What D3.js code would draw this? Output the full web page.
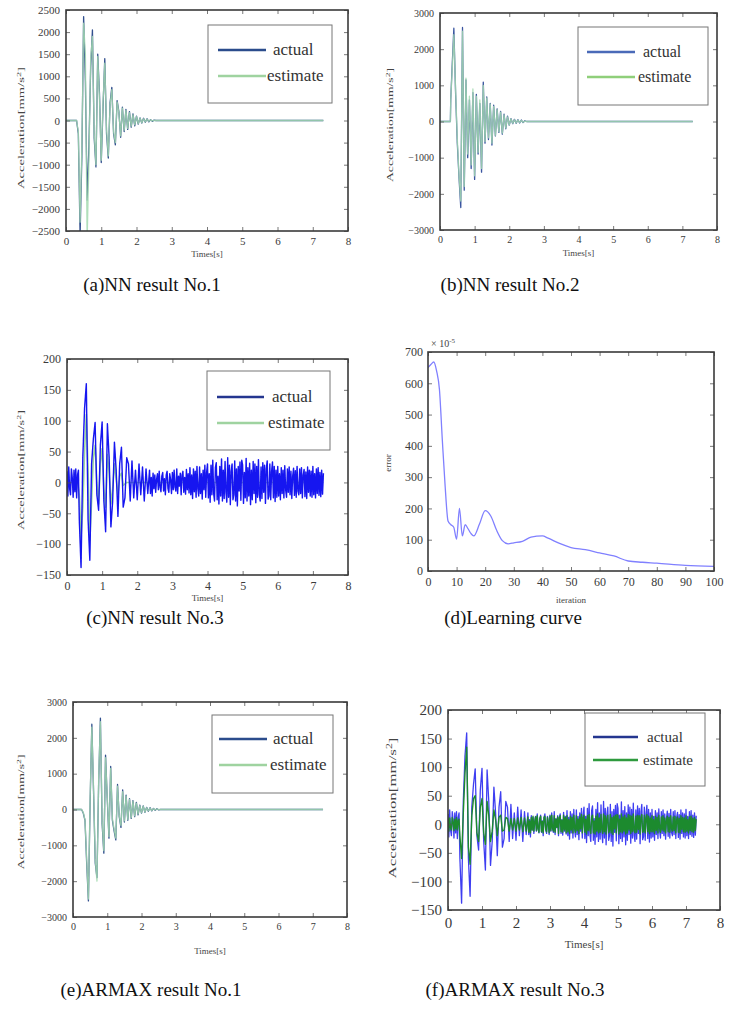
<!DOCTYPE html>
<html><head><meta charset="utf-8">
<script src="https://cdn.jsdelivr.net/npm/d3@7"></script>
<style>
body{margin:0;background:#fff}
svg{display:block}
text{font-family:"Liberation Serif","Times New Roman",serif}
</style>
</head><body>
<svg id="fig" width="731" height="1014"></svg>
<script>
// ---------------- data ----------------
const END_T = 7.3;          // end of records [s]
const STEP = 0.05;          // sampling step of burst values [s]
const FINE = 0.025;         // sampling step of noise values [s]
const timeTicks = [0,1,2,3,4,5,6,7,8];
const accTicksA = [-2500,-2000,-1500,-1000,-500,0,500,1000,1500,2000,2500];
const accTicks3k = [-3000,-2000,-1000,0,1000,2000,3000];
const accTicks200 = [-150,-100,-50,0,50,100,150,200];
const iterTicks = [0,10,20,30,40,50,60,70,80,90,100];
const errTicks = [0,100,200,300,400,500,600,700];
const legendLabels = ["actual","estimate"];
const captions = ["(a)NN result No.1","(b)NN result No.2","(c)NN result No.3","(d)Learning curve","(e)ARMAX result No.1","(f)ARMAX result No.3"];

// (a) NN result No.1  (values from t = 0.30 s, every STEP)
const aStart = 0.30;
const aActual = [0,-300,-2600,-800,2350,900,-1800,-600,1200,2050,-400,-1050,1500,600,-950,300,1400,-300,-850,400,750,-300,-550,450,200,-380,300,-250,250,-200,200,-150,150,-120,100,-80,60,-60,50,-40,40,-30,20,-20,10,0];
const aEstimate = [0,-250,-2300,-600,2200,1500,-2700,-900,1400,1900,-300,-1000,1450,500,-900,400,1300,-200,-800,350,700,-250,-500,420,180,-350,280,-220,230,-180,180,-130,130,-100,90,-70,50,-50,40,-30,30,-20,15,-10,5,0];

// (b) NN result No.2  (values from t = 0.35 s)
const bLeadT = [0,0.30,0.31];
const bLeadV = [0,0,600];
const bStart = 0.35;
const bActual = [1500,2580,800,-600,-1560,-2380,2600,-1900,1150,-1000,600,-1300,800,-1600,750,-900,500,-1400,1090,-600,680,-500,500,-650,450,-400,350,-300,280,-350,200,-200,150,-100,80,-60,60,-50,50,-40,40,-30,20,0];
const bEstimate = [1400,2400,900,-500,-1500,-2200,2500,-1800,1200,-900,700,-1200,900,-1500,700,-850,600,-1300,1000,-550,650,-450,480,-600,420,-380,330,-280,260,-320,180,-180,130,-90,70,-50,50,-40,40,-30,30,-20,10,0];

// No.3 actual record (shared by (c) and (f))
const no3LeadStart = 0, no3BurstStart = 0.35, no3TailStart = 2.35;
const no3ActualLead = [18,-22,25,-10,-20,22,8,-24,20,-15,22,-25,12,20];            // FINE steps
const no3ActualBurst = [-60,-138,40,120,160,-60,-126,30,70,97,-20,-45,60,98,-30,-80,95,40,-72,-30,
 65,20,-55,30,57,-40,-25,40,30,-30,35,-25,20,-28,30,-20,25,-30,22,-18];             // STEP steps
const no3ActualTail = [                                                                  // FINE steps
 20,-18,8,-22,15,-10,12,-16,5,14, -12,18,-8,-15,10,16,-14,6,-20,12,
 18,-10,-16,14,4,-18,16,-12,20,-8, -14,22,-18,10,-6,15,-20,12,18,-16,
 8,-19,21,-12,14,-17,
 24,-20,12,-26,22,-15,18,-24,26,-10, -22,25,-18,14,-27,20,-12,28,-24,16,
 30,-25,14,-32,28,-20,36,-18,-30,24, 32,-28,10,-35,26,-22,38,-30,20,-26,
 34,-16,-32,40,-24,28,-36,18,30,-28, -20,35,-30,22,-38,26,-14,33,-29,36,
 28,-34,16,-25,39,-30,24,-22,31,-36, 20,-28,34,-18,30,-33,26,-24,37,-20,
 -30,25,-26,32,-16,28,-34,22,35,-27, -22,30,-28,18,33,-25,26,-31,20,-24,
 26,-22,14,-28,24,-18,20,-25,27,-12, -24,22,-16,25,-20,18,-26,10,23,-21,
 19,-24,26,-14,-20,22,-18,24,-25,12, 21,-23,17,-26,25,-16,20,-22,18,-24,
 26,-20,14,-25,22,-18,24,-21,16,-23, 20,-19,15];

// (c) NN estimate No.3
const cEstT = [0,0.30,0.35,0.40,0.45,0.50,0.55,0.60,0.65,0.70,0.75,0.80,0.85,0.90,0.95,1.00,1.05,1.10,1.15,1.20,1.25,1.30,1.35,1.40,1.45,1.50,1.55,1.60,1.70,7.3];
const cEstV = [0,0,-20,-90,-40,50,110,20,-95,-30,40,60,0,-35,30,55,-10,-40,45,15,-35,-10,30,5,-20,10,15,-5,0,0];

// (d) learning curve
const iterX = [0,1,2,3,4,5,6,7,8,9,10,11,12,13,14,15,16,18,20,22,24,26,28,30,33,36,40,42,46,50,55,60,65,70,75,80,90,100];
const errorY = [650,660,668,640,580,420,270,160,148,140,102,200,112,148,135,120,112,150,193,175,130,97,87,90,95,108,112,105,88,75,68,58,48,32,28,25,18,15];

// (e) ARMAX result No.1 (values from t = 0.25 s)
const eStart = 0.25;
const eActual = [0,-100,-300,-1500,-2550,200,2380,500,-1500,-1900,800,2550,-400,-1220,1520,300,-800,1200,-300,-600,-850,700,-200,-500,550,-350,400,-300,300,-250,250,-200,200,-150,120,-100,100,-80,60,-50,50,-40,30,-20,20,-10,0];
const eEstimate = [0,-80,-280,-1400,-2500,300,2300,600,-1400,-2000,900,2450,-300,-1150,1450,350,-750,1150,-250,-550,-800,650,-180,-450,500,-320,380,-280,280,-230,230,-180,180,-130,110,-90,90,-70,50,-40,40,-30,25,-15,15,-5,0];

// (f) ARMAX estimate No.3
const fEstLead = [10,-12,11,-6,-10,12,4,-11,9,-8,12,-10,6,9];
const fEstBurst = [-20,-60,20,90,135,-40,-70,15,45,50,-15,-30,30,45,-15,-35,40,15,-30,-12,
 25,8,-20,12,16,-12,-10,12,10,-12,10,-10,10,-12,11,-10,12,-13,11,-12];
const fEstTail = [
 13,-14,6,-15,12,-10,14,-12,4,13, -11,15,-8,-14,10,14,-13,5,-15,12,
 14,-9,-13,12,3,-15,14,-11,16,-7, -12,15,-14,9,-5,13,-16,11,15,-13,
 7,-14,16,-10,12,-15,
 15,-13,8,-16,14,-10,12,-15,16,-7, -14,15,-11,9,-16,13,-8,17,-15,11,
 16,-14,9,-17,15,-11,17,-10,-16,13, 16,-15,6,-17,14,-12,18,-15,11,-14,
 17,-9,-16,18,-13,15,-17,10,16,-15, -11,17,-15,12,-18,14,-8,16,-15,17,
 15,-17,9,-13,18,-15,13,-12,16,-17, 11,-15,17,-10,16,-16,14,-13,18,-11,
 -15,14,-14,16,-9,15,-17,12,17,-14, -12,16,-15,10,17,-13,14,-16,11,-13,
 15,-13,8,-16,14,-11,12,-15,16,-7, -14,13,-10,15,-12,11,-15,6,14,-13,
 12,-14,15,-8,-12,13,-11,14,-15,7, 13,-14,10,-15,15,-9,12,-13,11,-14,
 15,-12,8,-15,13,-11,14,-13,10,-14, 12,-11,9];

// ---------------- helpers ----------------
const gridStep = (t0, step, vals) => vals.map((v,i)=>[t0 + i*step, v]);
const grid = (t0, vals) => gridStep(t0, STEP, vals);
const zip = (ts, vs) => ts.map((t,i)=>[t, vs[i]]);
const flatBurst = (t0, vals) => [[0,0]].concat(grid(t0, vals), [[END_T,0]]);
const record3 = (lead, burst, tail) => gridStep(no3LeadStart, FINE, lead)
  .concat(gridStep(no3BurstStart, STEP, burst), gridStep(no3TailStart, FINE, tail));

const svg = d3.select("#fig");
const defs = svg.append("defs");
defs.append("filter").attr("id","soft").attr("x","-5%").attr("y","-5%").attr("width","110%").attr("height","110%")
  .append("feGaussianBlur").attr("stdDeviation",0.5);
let clipId = 0;

function panel(cfg){
  const x = d3.scaleLinear().domain(cfg.xDomain).range([cfg.l, cfg.r]);
  const y = d3.scaleLinear().domain(cfg.yDomain).range([cfg.b, cfg.t]);
  const g = svg.append("g");
  const id = "clip" + (clipId++);
  defs.append("clipPath").attr("id", id).append("rect")
    .attr("x", cfg.l).attr("y", cfg.t).attr("width", cfg.r-cfg.l).attr("height", cfg.b-cfg.t);
  const plot = g.append("g").attr("clip-path", `url(#${id})`).append("g").attr("filter","url(#soft)");
  const line = d3.line().x(d=>x(d[0])).y(d=>y(d[1]));
  if (cfg.curve) line.curve(cfg.curve);
  cfg.series.forEach(s=>{
    plot.append("path").attr("d", line(s.data)).attr("fill","none")
      .attr("stroke", s.color).attr("stroke-width", s.width||1)
      .attr("stroke-opacity", s.opacity==null?1:s.opacity)
      .attr("stroke-linejoin","round");
  });
  const fs = cfg.tickFont;
  const styleAxis = a => {
    a.attr("font-family",null);
    a.select(".domain").remove();
    a.selectAll(".tick line").attr("stroke","#555").attr("stroke-width",0.8);
    a.selectAll("text").attr("font-size", fs).attr("fill","#3a3a3a");
  };
  g.append("g").attr("transform",`translate(0,${cfg.b})`)
    .call(d3.axisBottom(x).tickValues(cfg.xTicks).tickSizeInner(-4).tickSizeOuter(0).tickPadding(cfg.xPad).tickFormat(d3.format("d")))
    .call(styleAxis);
  g.append("g").attr("transform",`translate(0,${cfg.t})`)
    .call(d3.axisTop(x).tickValues(cfg.xTicks).tickSizeInner(-4).tickSizeOuter(0).tickFormat(""))
    .call(styleAxis);
  g.append("g").attr("transform",`translate(${cfg.l},0)`)
    .call(d3.axisLeft(y).tickValues(cfg.yTicks).tickSizeInner(-4).tickSizeOuter(0).tickPadding(cfg.yPad).tickFormat(d3.format("d")))
    .call(styleAxis);
  g.append("g").attr("transform",`translate(${cfg.r},0)`)
    .call(d3.axisRight(y).tickValues(cfg.yTicks).tickSizeInner(-4).tickSizeOuter(0).tickFormat(""))
    .call(styleAxis);
  g.append("rect").attr("x",cfg.l).attr("y",cfg.t).attr("width",cfg.r-cfg.l).attr("height",cfg.b-cfg.t)
    .attr("fill","none").attr("stroke","#3a3a3a").attr("stroke-width",1.6);
  // axis titles
  g.append("text").attr("x",(cfg.l+cfg.r)/2).attr("y",cfg.xTitleY).attr("text-anchor","middle")
    .attr("font-size",cfg.titleFont).attr("fill","#444").text(cfg.xTitle);
  const yt = g.append("text").attr("transform",`translate(${cfg.yTitleX},${cfg.yTitleCY}) rotate(-90)`)
    .attr("text-anchor","middle").attr("font-size",cfg.titleFont).attr("fill","#444");
  if (cfg.yTitleLen) yt.attr("textLength",cfg.yTitleLen).attr("lengthAdjust","spacingAndGlyphs");
  if (cfg.yTitleSup){
    yt.append("tspan").text(cfg.yTitle);
    yt.append("tspan").attr("baseline-shift","super").attr("font-size",cfg.titleFont*0.7).text(cfg.yTitleSup);
    yt.append("tspan").text("]");
  } else yt.text(cfg.yTitle);
  // legend
  if (cfg.legend){
    const L = cfg.legend;
    g.append("rect").attr("x",L.x).attr("y",L.y).attr("width",L.w).attr("height",L.h)
      .attr("fill","#fff").attr("stroke","#777").attr("stroke-width",1);
    legendLabels.forEach((lab,i)=>{
      const yy = L.rows[i];
      g.append("line").attr("x1",L.lx1).attr("x2",L.lx2).attr("y1",yy).attr("y2",yy)
        .attr("stroke",L.colors[i]).attr("stroke-width",2.6);
      g.append("text").attr("x",L.tx[i]).attr("y",yy).attr("dy","0.32em")
        .attr("font-size",L.font).attr("fill","#333").text(lab);
    });
  }
  return {x,y,g};
}

// ---------------- panels ----------------
const navy = "#33508f", lightGreen = "#a3d9b0";
const no3Actual = record3(no3ActualLead, no3ActualBurst, no3ActualTail);

// (a)
panel({l:66,r:348,t:10,b:231,xDomain:[0,8],yDomain:[-2500,2500],xTicks:timeTicks,yTicks:accTicksA,
  tickFont:11,xPad:6,yPad:6,titleFont:9,xTitle:"Times[s]",xTitleY:257,
  yTitle:"Acceleration[mm/s",yTitleSup:"2",yTitleX:24,yTitleCY:128,yTitleLen:122,
  series:[{data:flatBurst(aStart,aActual),color:navy,width:1.3},
          {data:flatBurst(aStart,aEstimate),color:lightGreen,width:1.3,opacity:0.85}],
  legend:{x:208,y:25,w:124,h:78,lx1:218,lx2:266,rows:[50,76],tx:[273,267],font:17,colors:["#2b4c8c","#9fd3a0"]}});

// (b)
panel({l:440,r:717,t:13,b:230,xDomain:[0,8],yDomain:[-3000,3000],xTicks:timeTicks,yTicks:accTicks3k,
  tickFont:10,xPad:6,yPad:6,titleFont:9,xTitle:"Times[s]",xTitleY:256,
  yTitle:"Acceleration[mm/s",yTitleSup:"2",yTitleX:393,yTitleCY:125,yTitleLen:114,
  series:[{data:[[0,0]].concat(zip(bLeadT,bLeadV).slice(1), grid(bStart,bActual), [[END_T,0]]),color:"#3a55a0",width:1.3},
          {data:[[0,0]].concat(zip(bLeadT,bLeadV).slice(1), grid(bStart,bEstimate), [[END_T,0]]),color:lightGreen,width:1.3,opacity:0.85}],
  legend:{x:578,y:27,w:130,h:78,lx1:587,lx2:635,rows:[52,77],tx:[643,638],font:16,colors:["#4a6ab8","#8fcf7a"]}});

// (c)
panel({l:67,r:348,t:359,b:575,xDomain:[0,8],yDomain:[-150,200],xTicks:timeTicks,yTicks:accTicks200,
  tickFont:12,xPad:6,yPad:6,titleFont:9,xTitle:"Times[s]",xTitleY:601,
  yTitle:"Acceleration[mm/s",yTitleSup:"2",yTitleX:24,yTitleCY:470,yTitleLen:120,
  series:[{data:zip(cEstT,cEstV),color:"#9ad89a",width:1.6},
          {data:no3Actual,color:"#1414f0",width:1.4}],
  legend:{x:207,y:371,w:123,h:79,lx1:217,lx2:264,rows:[397,423],tx:[272,268],font:17,colors:["#24368f","#9fd3a0"]}});

// (d)
const pd = panel({l:428,r:714,t:352,b:571,xDomain:[0,100],yDomain:[0,700],xTicks:iterTicks,yTicks:errTicks,
  tickFont:12,xPad:6,yPad:5,titleFont:9,xTitle:"iteration",xTitleY:603,
  yTitle:"error",yTitleX:391,yTitleCY:463,
  curve:d3.curveMonotoneX,
  series:[{data:zip(iterX,errorY),color:"#8080ff",width:1.3}]});
const mult = pd.g.append("text").attr("x",431).attr("y",347).attr("font-size",10).attr("fill","#444");
mult.append("tspan").text("× 10");
mult.append("tspan").attr("baseline-shift","super").attr("font-size",7).text("-5");

// (e)
panel({l:73,r:347,t:702,b:917,xDomain:[0,8],yDomain:[-3000,3000],xTicks:timeTicks,yTicks:accTicks3k,
  tickFont:10,xPad:6,yPad:6,titleFont:9,xTitle:"Times[s]",xTitleY:954,
  yTitle:"Acceleration[mm/s",yTitleSup:"2",yTitleX:24,yTitleCY:812,yTitleLen:115,
  series:[{data:flatBurst(eStart,eActual),color:navy,width:1.3},
          {data:flatBurst(eStart,eEstimate),color:lightGreen,width:1.3,opacity:0.85}],
  legend:{x:212,y:715,w:121,h:78,lx1:219,lx2:267,rows:[739,765],tx:[273,270],font:17,colors:["#2b4c8c","#9fd3a0"]}});

// (f)
panel({l:448,r:720,t:710,b:910,xDomain:[0,8],yDomain:[-150,200],xTicks:timeTicks,yTicks:accTicks200,
  tickFont:15,xPad:7,yPad:6,titleFont:11,xTitle:"Times[s]",xTitleY:948,
  yTitle:"Acceleration[mm/s",yTitleSup:"2",yTitleX:396,yTitleCY:808,yTitleLen:141,
  series:[{data:no3Actual,color:"#2a2af0",width:1.3,opacity:0.9},
          {data:record3(fEstLead,fEstBurst,fEstTail),color:"#1f8a2f",width:1.4}],
  legend:{x:585,y:713,w:120,h:73,lx1:593,lx2:638,rows:[737,760],tx:[647,643],font:15,colors:["#24368f","#2e9a3e"]}});

// captions
const capPos = [[152,291],[510,291],[155,624],[513,624],[151,996],[515,996]];
svg.selectAll("text.cap").data(captions).enter().append("text").attr("class","cap")
  .attr("x",(d,i)=>capPos[i][0]).attr("y",(d,i)=>capPos[i][1]).attr("text-anchor","middle")
  .attr("font-size",19).attr("fill","#111").text(d=>d);
</script>
</body></html>
